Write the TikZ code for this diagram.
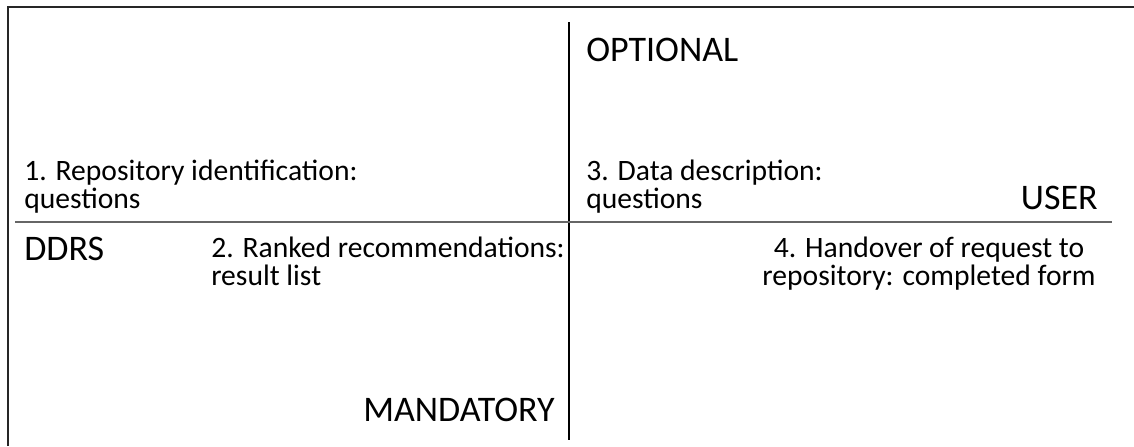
\documentclass[tikz,border=0pt]{standalone}
\usepackage{fontspec}
\setmainfont{Carlito}
\usetikzlibrary{positioning}
\tikzset{
  stage text/.style={font=\fontsize{22.2}{21}\selectfont, inner sep=0pt, align=left},
  side text/.style={font=\fontsize{27}{27}\selectfont, inner sep=0pt},
}
\begin{document}
\begin{tikzpicture}[x=0.75pt,y=-0.75pt]
  \useasboundingbox (0,0) rectangle (1134,446);
  % frame (top and left edges only)
  \coordinate (fbl) at (8,446);
  \coordinate (ftl) at (8,7);
  \coordinate (ftr) at (1134,7);
  \draw[line width=1.5pt, black!85] (fbl) -- (ftl) -- (ftr);
  % axes
  \coordinate (vtop) at (569,22);
  \coordinate (vbot) at (569,440);
  \coordinate (hleft) at (15,222);
  \coordinate (hright) at (1112,222);
  \draw[line width=0.9pt] (vtop) -- (vbot);
  \draw[line width=1.1pt, black!60] (hleft) -- (hright);
  % axis labels
  \node[side text, anchor=base west] (optional) at (586,61) {OPTIONAL};
  \node[side text, anchor=base east] (mandatory) at (555,421) {MANDATORY};
  \node[side text, anchor=base east] (user) at (1098,209) {USER};
  \node[side text, anchor=base west] (ddrs) at (24,260) {DDRS};
  % stages (base = last line)
  \node[stage text, anchor=base west] (stage1) at (24,208) {1. Repository identification:\\questions};
  \node[stage text, anchor=base west] (stage3) at (586,208) {3. Data description:\\questions};
  \node[stage text, anchor=base west] (stage2) at (211,285) {2. Ranked recommendations:\\result list};
  \node[stage text, align=center, anchor=base] (stage4) at (929,285) {4. Handover of request to\\repository: completed form};
\end{tikzpicture}
\end{document}
